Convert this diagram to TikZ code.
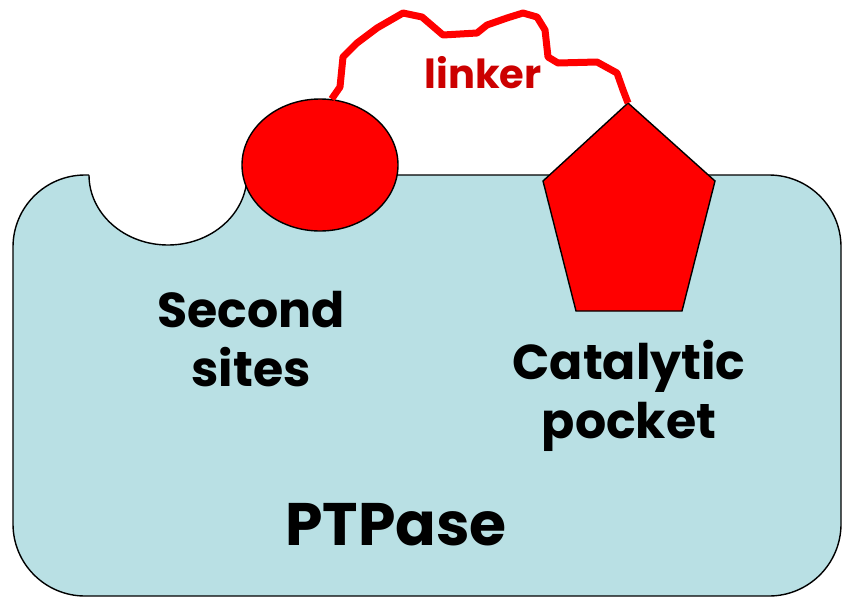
\documentclass[tikz,border=0pt]{standalone}
\usepackage{fontspec}
\setmainfont{Poppins}
\usepackage{tikz}
\usetikzlibrary{positioning,shapes.geometric}
\usepackage{xcolor}
\definecolor{protein}{RGB}{185,224,228}
\definecolor{ligand}{RGB}{255,0,0}
\definecolor{tether}{RGB}{204,0,0}

\begin{document}
\begin{tikzpicture}[x=1pt, y=-1pt,
  body/.style={draw=black, line width=1.4pt, fill=protein},
  warhead/.style={draw=black, line width=1.4pt, fill=ligand},
  label/.style={font=\fontsize{49}{59}\selectfont\bfseries, align=center, inner sep=0pt},
  linker/.style={draw=ligand, line width=7pt, line join=round}
]
\useasboundingbox (0,0) rectangle (842,597);
% enzyme body
\draw[body, rounded corners=72pt] (13,175) rectangle (841,596);
% second site cut into the surface
\fill[white] (89,168) -- (89,175) arc[start angle=180, end angle=0, x radius=79, y radius=70] -- (247,168) -- cycle;
\draw[line width=1.4pt] (89,175) arc[start angle=180, end angle=0, x radius=79, y radius=70];
% binding groups
\node[warhead, ellipse, minimum width=156pt, minimum height=132pt, inner sep=0pt] (site) at (320,165) {};
\coordinate (p1) at (628,103);
\coordinate (p2) at (715,181);
\coordinate (p3) at (682,311);
\coordinate (p4) at (576,311);
\coordinate (p5) at (543,181);
\draw[warhead, line join=miter] (p1) -- (p2) -- (p3) -- (p4) -- (p5) -- cycle;
% tether
\draw[linker] (site.80) -- (340,87) -- (343,57) -- (357,43) -- (377,28) -- (403,13)
  -- (422,17) -- (443,35) -- (477,33) -- (487,25) -- (507,18) -- (523,13) -- (537,17)
  -- (545,30) -- (548,57) -- (558,63) -- (597,62) -- (617,73) -- (623,90) -- (p1);
\node[font=\fontsize{40}{44}\selectfont\bfseries, text=tether] (link) at (483,73) {linker};
% labels
\node[label] (second) at (251,339) {Second\\sites};
\node[label] (pocket) at (629,396) {Catalytic\\pocket};
\node[label, font=\fontsize{60}{66}\selectfont\bfseries] (ptpase) at (396,525) {PTPase};
\end{tikzpicture}
\end{document}
